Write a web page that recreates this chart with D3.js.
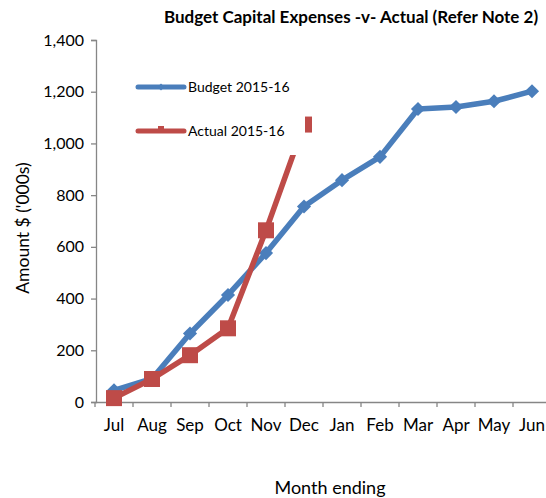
<!DOCTYPE html>
<html><head><meta charset="utf-8">
<script src="https://cdn.jsdelivr.net/npm/d3@7"></script>
<style>body{margin:0;background:#fff}svg{display:block}</style>
</head><body>
<script>
const months = ["Jul","Aug","Sep","Oct","Nov","Dec","Jan","Feb","Mar","Apr","May","Jun"];
const budget = [45, 90, 265, 414, 576, 756, 858, 948, 1133, 1141, 1163, 1202];
const actualMonths = ["Jul","Aug","Sep","Oct","Nov","Dec"];
const actual = [15, 89, 181, 285, 664, 1073];
const yTicks = [0, 200, 400, 600, 800, 1000, 1200, 1400];
const title = "Budget Capital Expenses -v- Actual (Refer Note 2)";
const seriesNames = ["Budget 2015-16", "Actual 2015-16"];

const W = 546, H = 498;
const blue = "#4A7EBB", red = "#BE4B48", axisC = "#868686";
const font = "Lato, 'Open Sans', sans-serif";

const svg = d3.select("body").append("svg").attr("width", W).attr("height", H);

const x = d3.scaleBand().domain(months).range([95, 95 + 38 * 12]);
const y = d3.scaleLinear().domain([0, 1400]).range([402, 40]);
const cx = m => x(m) + x.bandwidth() / 2;

// title
svg.append("text").attr("x", 351).attr("y", 23).attr("text-anchor", "middle")
  .attr("font-family", font).attr("font-weight", "bold").attr("font-size", 17)
  .attr("fill", "#000").text(title);

// y axis
const yAxis = svg.append("g").attr("transform", "translate(96,0)")
  .call(d3.axisLeft(y).tickValues(yTicks).tickSize(5).tickPadding(7).tickFormat(d3.format(",")));
yAxis.select(".domain").attr("stroke", axisC).attr("stroke-width", 1.3);
yAxis.selectAll(".tick line").attr("stroke", axisC).attr("stroke-width", 1.3);
yAxis.selectAll(".tick text").attr("font-family", font).attr("font-size", 16).attr("fill", "#000");

// x axis
const xAxis = svg.append("g").attr("transform", "translate(0,402)")
  .call(d3.axisBottom(x).tickSize(0).tickPadding(17));
xAxis.select(".domain").attr("stroke", axisC).attr("stroke-width", 1.3);
xAxis.selectAll(".tick text").attr("font-family", font).attr("font-size", 17).attr("fill", "#000");
// category boundary ticks
const bounds = months.map(m => x(m)).concat([x(months[11]) + x.bandwidth()]);
xAxis.selectAll(".bt").data(bounds).enter().append("line")
  .attr("x1", d => d).attr("x2", d => d).attr("y1", 0).attr("y2", 5)
  .attr("stroke", axisC).attr("stroke-width", 1.3);

// axis titles
svg.append("text").attr("transform", "translate(29,228) rotate(-90)").attr("text-anchor", "middle")
  .attr("font-family", font).attr("font-size", 17.5).attr("fill", "#000").text("Amount $ ('000s)");
svg.append("text").attr("x", 330).attr("y", 494).attr("text-anchor", "middle")
  .attr("font-family", font).attr("font-size", 18).attr("fill", "#000").text("Month ending");

const line = d3.line();

const bPts = months.map((m, i) => [cx(m), y(budget[i])]);
const aPts = actualMonths.map((m, i) => [cx(m), y(actual[i])]);

svg.append("path").attr("d", line(bPts)).attr("fill", "none").attr("stroke", blue)
  .attr("stroke-width", 5.5).attr("stroke-linejoin", "round");
svg.selectAll(".bm").data(bPts).enter().append("path")
  .attr("d", d3.symbol().type(d3.symbolSquare).size(100))
  .attr("transform", d => `translate(${d[0]},${d[1]}) rotate(45)`).attr("fill", blue);

svg.append("path").attr("d", line(aPts)).attr("fill", "none").attr("stroke", red)
  .attr("stroke-width", 5.5).attr("stroke-linejoin", "round");
svg.selectAll(".am").data(aPts).enter().append("rect")
  .attr("x", d => d[0] - 8).attr("y", d => d[1] - 8).attr("width", 16).attr("height", 16)
  .attr("fill", red);

// legend (white box overlays the plot)
const lg = svg.append("g");
lg.append("rect").attr("x", 128).attr("y", 58).attr("width", 177).attr("height", 97).attr("fill", "#fff");
const legY = [87, 131];
const colors = [blue, red];
seriesNames.forEach((n, i) => {
  lg.append("line").attr("x1", 138).attr("x2", 184).attr("y1", legY[i]).attr("y2", legY[i])
    .attr("stroke", colors[i]).attr("stroke-width", 5).attr("stroke-linecap", "round");
  if (i === 0) {
    lg.append("path").attr("d", d3.symbol().type(d3.symbolSquare).size(24))
      .attr("transform", `translate(161,${legY[i]}) rotate(45)`).attr("fill", blue);
  } else {
    lg.append("rect").attr("x", 158).attr("y", legY[i] - 5).attr("width", 6).attr("height", 6).attr("fill", red);
  }
  lg.append("text").attr("x", 188).attr("y", legY[i] + 5).attr("font-family", font)
    .attr("font-size", 14).attr("fill", "#000").text(n);
});
</script>
</body></html>
